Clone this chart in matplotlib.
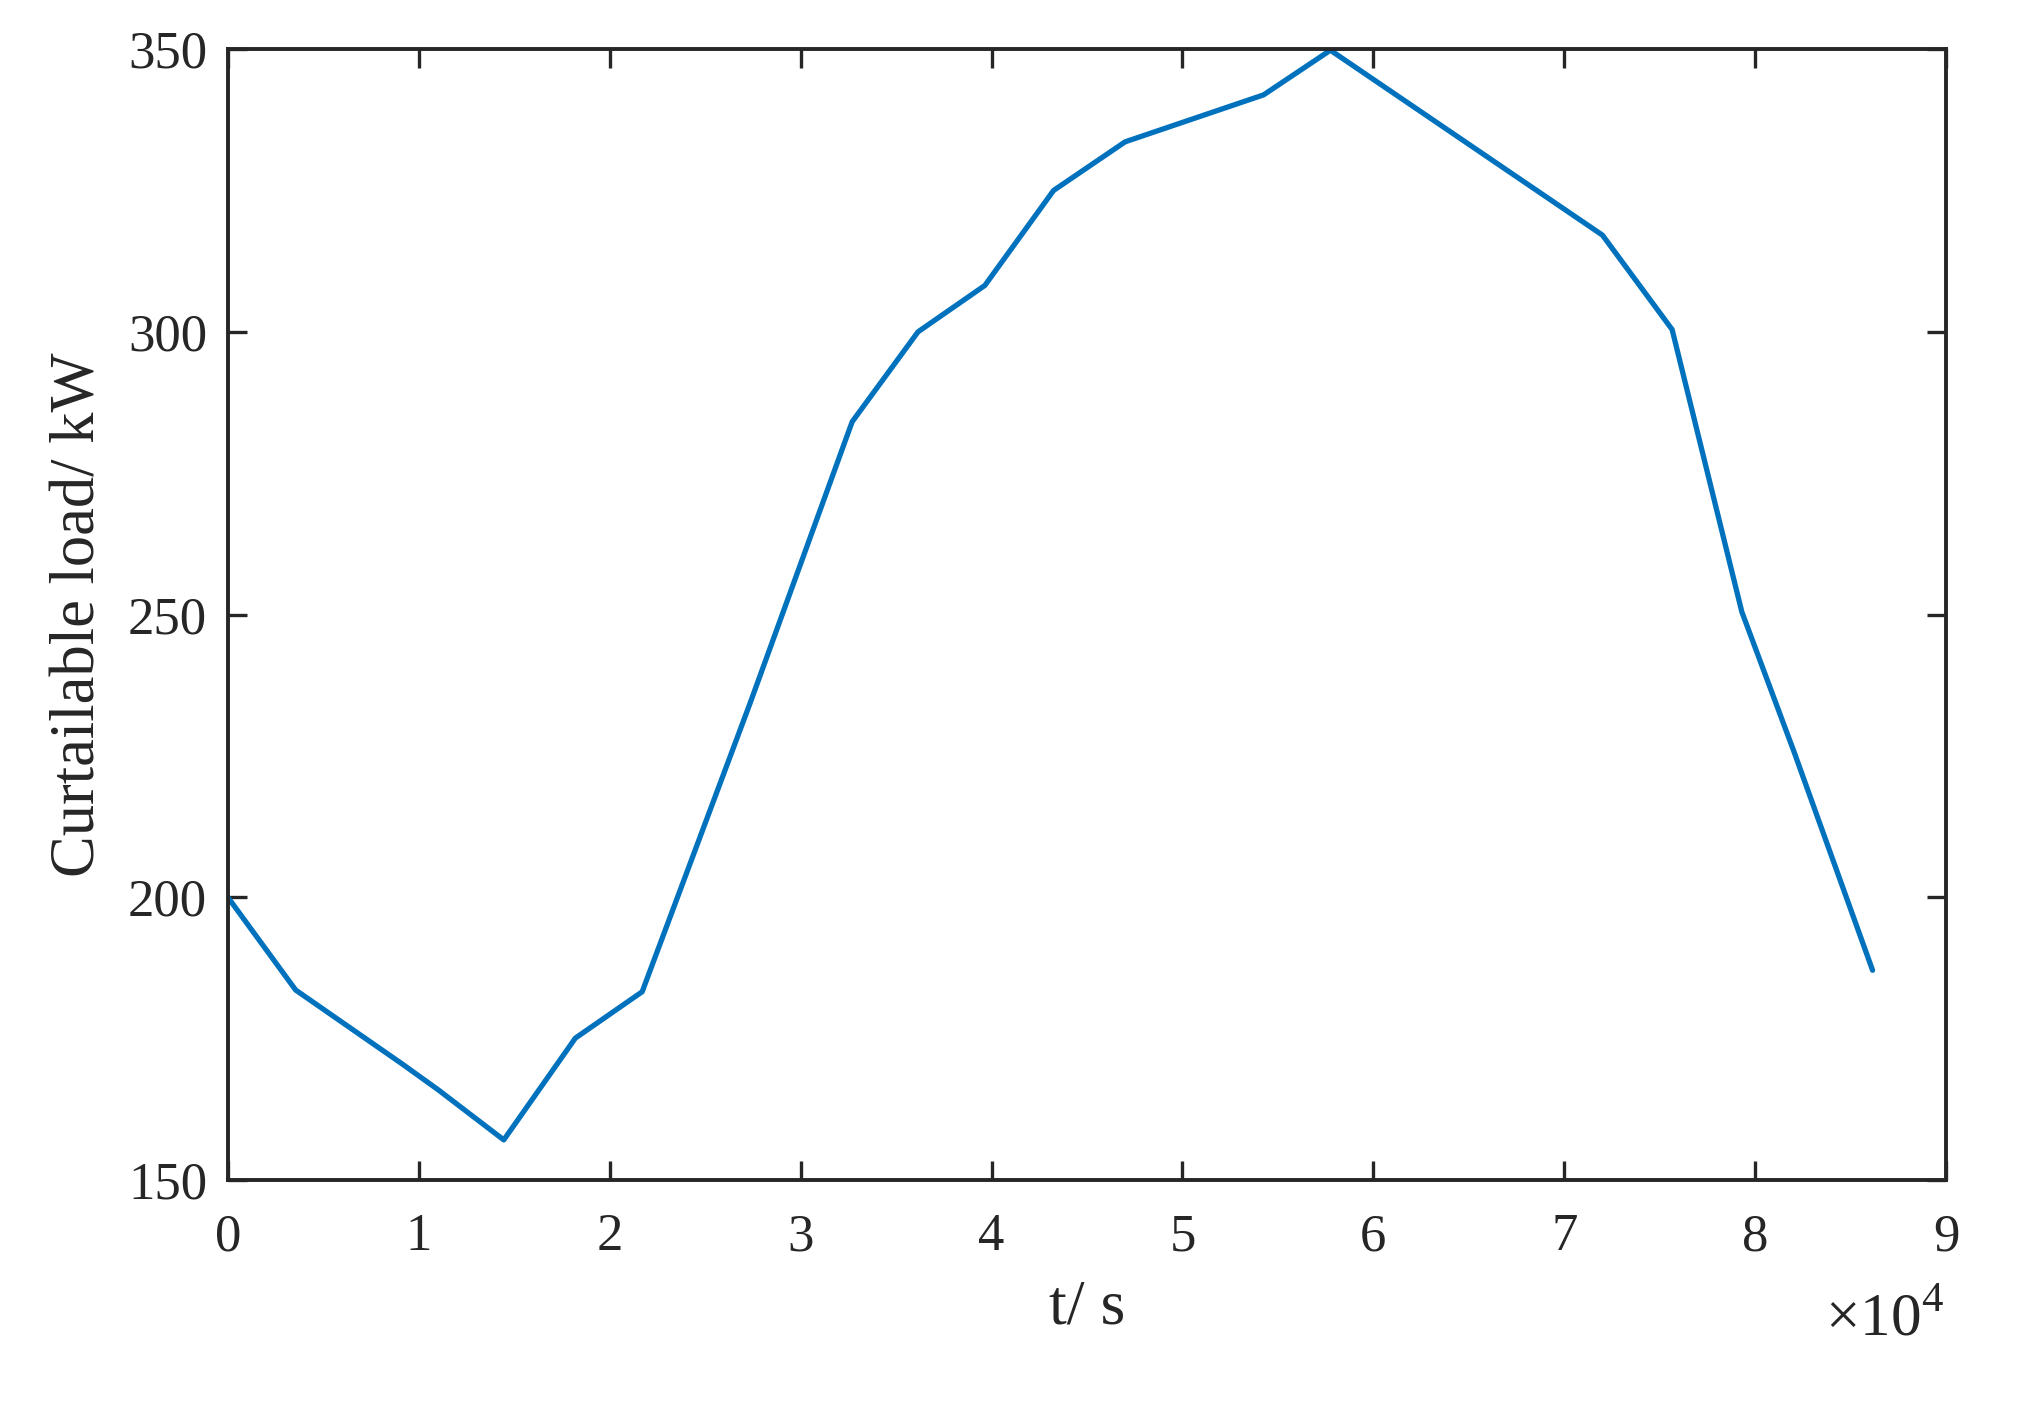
import matplotlib
matplotlib.use("Agg")
import matplotlib.pyplot as plt
from matplotlib.ticker import FuncFormatter

plt.rcParams['font.family'] = ['Liberation Serif', 'DejaVu Serif']
plt.rcParams['mathtext.fontset'] = 'custom'
plt.rcParams['mathtext.rm'] = 'Liberation Serif'

# Data (time in seconds, curtailable load in kW)
t_s = [0, 3550, 9100, 11000, 14450, 18200, 21700, 27350, 32700, 36150,
       39650, 43250, 47000, 54250, 57750, 72000, 75650, 79300, 82050, 86150]
load_kw = [200.0, 183.6, 170.6, 166.0, 157.1, 175.1, 183.3, 234.3, 284.1, 300.0,
           308.2, 325.0, 333.6, 341.9, 349.8, 317.1, 300.4, 250.5, 225.6, 187.1]

x_ticks = [0, 10000, 20000, 30000, 40000, 50000, 60000, 70000, 80000, 90000]
y_ticks = [150, 200, 250, 300, 350]

axis_col = '#262626'
line_col = '#0072BD'

fig = plt.figure(figsize=(10.12, 7.01), dpi=200)
ax = fig.add_axes([0.1126, 0.1583, 0.8489, 0.8067])

ax.plot(t_s, load_kw, color=line_col, linewidth=1.9,
        solid_joinstyle='round', solid_capstyle='round')

ax.set_xlim(0, 90000)
ax.set_ylim(150, 350)
ax.set_xticks(x_ticks)
ax.set_yticks(y_ticks)
ax.xaxis.set_major_formatter(FuncFormatter(lambda v, p: f"{v/1e4:g}"))

for s in ax.spines.values():
    s.set_color(axis_col)
    s.set_linewidth(1.4)

ax.tick_params(direction='in', length=6.8, width=1.2, colors=axis_col,
               labelsize=19, top=True, right=True)
ax.tick_params(axis='x', pad=12)
ax.tick_params(axis='y', pad=7.5)
for lab in ax.get_xticklabels() + ax.get_yticklabels():
    lab.set_color(axis_col)

ax.set_xlabel('t/ s', fontsize=23, color=axis_col, labelpad=6.5)
ax.set_ylabel('Curtailable load/ kW', fontsize=22.5, color=axis_col, labelpad=7)

fig.text(0.9605, 0.038, r'$\times10^{4}$', ha='right', va='bottom',
         fontsize=22, color=axis_col)

fig.savefig('out.png', dpi=200, facecolor='white')
